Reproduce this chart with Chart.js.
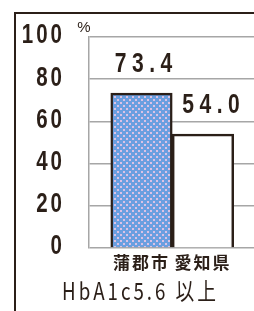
<!DOCTYPE html>
<html>
<head>
<meta charset="utf-8">
<script src="https://cdn.jsdelivr.net/npm/chart.js@4/dist/chart.umd.min.js"></script>
<style>
    html, body { margin: 0; padding: 0; background: #fff; overflow: hidden; }
    #wrap { position: relative; width: 254px; height: 311px; overflow: hidden; }
    #frame {
        position: absolute; left: 14px; top: 12px; width: 300px; height: 340px;
        border-left: 2px solid #2b1f18; border-top: 2px solid #2b1f18;
    }
    canvas { position: absolute; left: 0; top: 0; }
</style>
</head>
<body>
<div id="wrap">
    <div id="frame"></div>
    <canvas id="hba1cChart" width="254" height="311"></canvas>
</div>
<script>
const categories = ['蒲郡市', '愛知県'];
const values = [73.4, 54.0];
const yTicks = [0, 20, 40, 60, 80, 100];
const xTitle = 'HbA1c5.6 以上';
const unitLabel = '%';

const ink = '#2b1f18';

// small blue tile with pinkish dots, like the hatched bar
const makePattern = () => {
    const tile = document.createElement('canvas');
    tile.width = 6;
    tile.height = 6;
    const t = tile.getContext('2d');
    t.fillStyle = '#6a9fe0';
    t.fillRect(0, 0, 6, 6);
    t.fillStyle = '#dcc2e4';
    t.fillRect(0, 0, 2, 2);
    t.fillRect(3, 3, 2, 2);
    return document.getElementById('hba1cChart').getContext('2d').createPattern(tile, 'repeat');
};

// condensed text: squeeze horizontally, then space the letters out
const drawText = (ctx, text, x, y, font, sx, spacing, align, baseline) => {
    ctx.save();
    ctx.font = font;
    ctx.letterSpacing = spacing + 'px';
    ctx.textAlign = align;
    ctx.textBaseline = baseline || 'middle';
    ctx.fillStyle = ink;
    ctx.translate(x, y);
    ctx.scale(sx, 1);
    let dx = 0;
    if (align === 'center') dx = spacing / 2;
    if (align === 'right') dx = spacing;
    ctx.fillText(text, dx, 0);
    ctx.restore();
};

const textPlugin = {
    id: 'texts',
    beforeDraw: chart => {
        chart.ctx.letterSpacing = '2px';
    },
    afterDraw: chart => {
        const ctx = chart.ctx;
        const y = chart.scales.y;
        y.ticks.forEach(t => {
            drawText(ctx, String(t.value), y.right - 27, y.getPixelForValue(t.value) - 1,
                'bold 27px "Liberation Sans", sans-serif', 0.76, 4, 'right');
        });
        drawText(ctx, unitLabel, y.right - 5, y.top - 9, '15px "Liberation Sans", sans-serif', 1, 0, 'center');
        drawText(ctx, xTitle, 139, 291, '24px "Noto Sans CJK JP", sans-serif', 0.78, 3.8, 'center');
    },
    afterDatasetsDraw: chart => {
        const ctx = chart.ctx;
        const meta = chart.getDatasetMeta(0);
        meta.data.forEach((bar, i) => {
            drawText(ctx, values[i].toFixed(1), bar.x + 2 + i * 6, bar.y - 15,
                'bold 27px "Liberation Sans", sans-serif', 0.78, 7, 'center', 'bottom');
        });
    }
};

const ctx = document.getElementById('hba1cChart').getContext('2d');

new Chart(ctx, {
    type: 'bar',
    data: {
        datasets: [{
            data: values.map((v, i) => ({ x: i + 1, y: v })),
            backgroundColor: [makePattern(), '#ffffff'],
            borderColor: ink,
            borderWidth: 2.5,
            barPercentage: 1,
            categoryPercentage: 1
        }]
    },
    options: {
        responsive: false,
        animation: false,
        layout: { padding: { top: 37, left: 0, right: 0, bottom: 33 } },
        plugins: {
            legend: { display: false },
            tooltip: { enabled: false },
            title: { display: false }
        },
        scales: {
            x: {
                type: 'linear',
                offset: false,
                min: 0.146,
                max: 2.83,
                grid: { display: false, drawTicks: false },
                border: { display: false },
                afterBuildTicks: scale => {
                    scale.ticks = categories.map((c, i) => ({ value: i + 1 }));
                },
                afterFit: scale => { scale.height = 30; },
                ticks: {
                    padding: 4,
                    color: ink,
                    font: { family: '"Noto Sans CJK JP", sans-serif', size: 17, weight: 'bold' },
                    callback: (value) => categories[value - 1] || ''
                }
            },
            y: {
                min: 0,
                max: 100,
                afterBuildTicks: scale => {
                    scale.ticks = yTicks.map(v => ({ value: v }));
                },
                afterFit: scale => { scale.width = 89; },
                grid: { color: '#a6a6a6', lineWidth: 1.5, drawTicks: false },
                border: { color: '#a6a6a6', width: 1.5 },
                ticks: { display: false }
            }
        }
    },
    plugins: [textPlugin]
});
</script>
</body>
</html>
